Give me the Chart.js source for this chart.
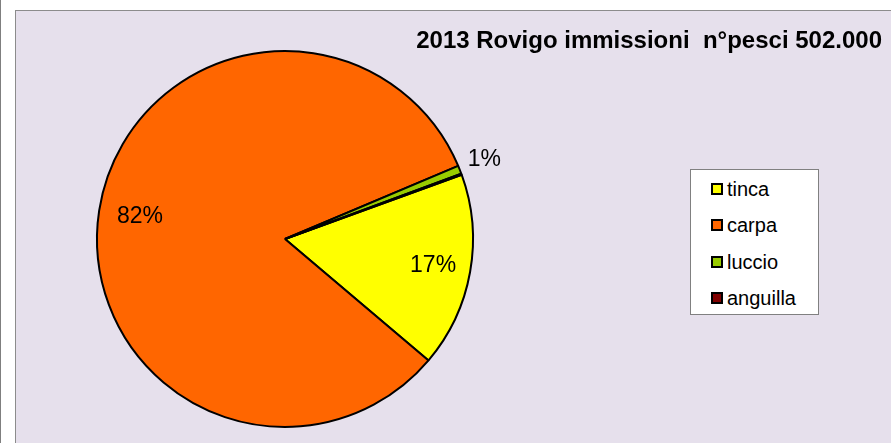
<!DOCTYPE html>
<html>
<head>
<meta charset="utf-8">
<script src="https://cdn.jsdelivr.net/npm/chart.js@4/dist/chart.umd.min.js"></script>
<style>
  body { margin: 0; background: #fff; font-family: "Liberation Sans", Arial, sans-serif; }
  #wrap { position: relative; width: 891px; height: 443px; overflow: hidden; }
  #outer-line { position: absolute; left: 0; top: 0; width: 1px; height: 443px; background: #7f7f7f; }
  #frame { position: absolute; left: 15px; top: 10px; width: 900px; height: 460px;
           background: #e6e0ec; border: 1px solid #8c8c8c; }
  #chart { position: absolute; left: 0; top: 0; }
  #title { position: absolute; right: 9px; top: 28px; font: bold 24px "Liberation Sans", Arial, sans-serif;
           line-height: 1; color: #000; white-space: pre; }
  #legend { position: absolute; left: 690px; top: 169px; width: 127px; height: 144px;
            background: #fff; border: 1px solid #808080; }
  .item { position: absolute; left: 20px; height: 20px; line-height: 20px; display: flex; align-items: center;
          font-size: 20px; color: #000; }
  .box { width: 8px; height: 8px; border: 2px solid #000; margin-right: 4px; }
</style>
</head>
<body>
<div id="wrap">
  <div id="outer-line"></div>
  <div id="frame"></div>
  <canvas id="chart" width="891" height="443"></canvas>
  <div id="title"></div>
  <div id="legend"></div>
</div>
<script>
const titleText = "2013 Rovigo immissioni  n\u00b0pesci 502.000";
const species = ["tinca", "carpa", "luccio", "anguilla"];
const fishCount = [84000, 414000, 3500, 500];
const sliceColors = ["#ffff00", "#ff6600", "#99cc00", "#800000"];

// where each percentage label sits, as a fraction of the radius (null = no label)
const labelDist = [0.80, 0.78, 1.14, null];

document.querySelector("#title").textContent = titleText;

const legend = document.querySelector("#legend");
species.forEach((name, i) => {
    const row = document.createElement("div");
    row.className = "item";
    row.style.top = (9 + i * 36.4) + "px";
    row.innerHTML = `<span class="box" style="background:${sliceColors[i]}"></span>${name}`;
    legend.appendChild(row);
});

const pctLabels = {
    id: "pctLabels",
    afterDatasetsDraw(chart){
        const ctx = chart.ctx;
        const total = fishCount.reduce((s, v) => s + v, 0);
        const arcs = chart.getDatasetMeta(0).data;
        ctx.save();
        ctx.font = '23px "Liberation Sans", Arial, sans-serif';
        ctx.fillStyle = "#000";
        ctx.textAlign = "center";
        ctx.textBaseline = "middle";
        arcs.forEach((arc, i) => {
            if(labelDist[i] == null) return;
            const mid = (arc.startAngle + arc.endAngle) / 2;
            const r = arc.outerRadius * labelDist[i];
            const txt = Math.round(fishCount[i] / total * 100) + "%";
            ctx.fillText(txt, arc.x + Math.cos(mid) * r, arc.y + Math.sin(mid) * r);
        });
        ctx.restore();
    }
};

new Chart(document.querySelector("#chart"), {
    type: "pie",
    data: {
        labels: species,
        datasets: [{
            data: fishCount,
            backgroundColor: sliceColors,
            borderColor: "#000",
            borderWidth: 2
        }]
    },
    options: {
        responsive: false,
        animation: false,
        rotation: 70,
        layout: { padding: { left: 96, right: 417, top: 50, bottom: 15 } },
        plugins: {
            legend: { display: false },
            title: { display: false },
            tooltip: { enabled: false }
        }
    },
    plugins: [pctLabels]
});
</script>
</body>
</html>
